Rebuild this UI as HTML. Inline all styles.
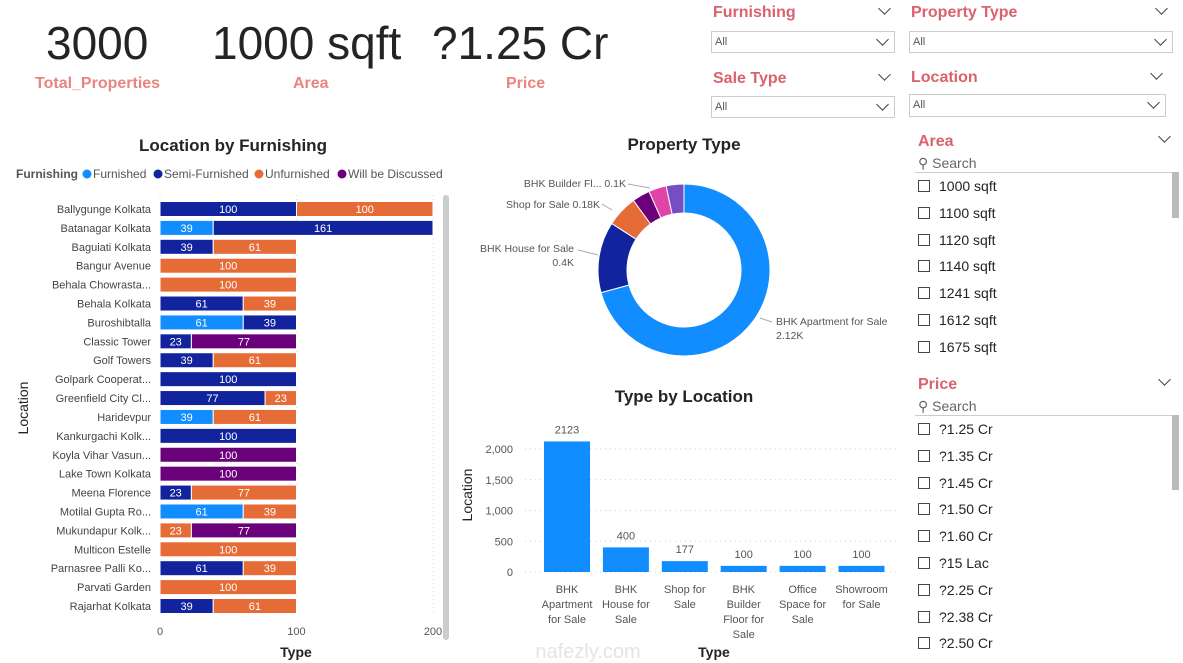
<!DOCTYPE html>
<html><head><meta charset="utf-8">
<style>
body{margin:0;width:1183px;height:663px;overflow:hidden;background:#fff;font-family:"Liberation Sans",sans-serif;position:relative}
.a{position:absolute}
.kpi{font-size:46px;color:#252423;white-space:nowrap}
.kl{font-size:16px;font-weight:bold;color:#E8857F;white-space:nowrap}
.sh{font-size:16px;font-weight:bold;color:#D9626D}
.dd{border:1px solid #ccc;font-size:11px;color:#555;box-sizing:border-box;padding:4px 3px}
.chev{width:8px;height:8px;border-right:1.5px solid #444;border-bottom:1.5px solid #444;transform:rotate(45deg)}
.item{font-size:14px;color:#252423}
.cb{width:12px;height:12px;border:1px solid #444;box-sizing:border-box}
</style></head><body>
<div class="a kpi" style="left:46px;top:16px">3000</div>
<div class="a kl" style="left:35px;top:75px">Total_Properties</div>
<div class="a kpi" style="left:212px;top:16px">1000 sqft</div>
<div class="a kl" style="left:293px;top:75px">Area</div>
<div class="a kpi" style="left:432px;top:16px">?1.25 Cr</div>
<div class="a kl" style="left:506px;top:75px">Price</div>

<div class="a sh" style="left:713px;top:4px">Furnishing</div>
<div class="a chev" style="left:880px;top:4px"></div>
<div class="a dd" style="left:711px;top:31px;width:184px;height:22px">All</div>
<div class="a chev" style="left:878px;top:35px"></div>
<div class="a sh" style="left:911px;top:4px">Property Type</div>
<div class="a chev" style="left:1157px;top:4px"></div>
<div class="a dd" style="left:909px;top:31px;width:264px;height:22px">All</div>
<div class="a chev" style="left:1156px;top:35px"></div>
<div class="a sh" style="left:713px;top:70px">Sale Type</div>
<div class="a chev" style="left:880px;top:70px"></div>
<div class="a dd" style="left:711px;top:96px;width:184px;height:22px">All</div>
<div class="a chev" style="left:878px;top:100px"></div>
<div class="a sh" style="left:911px;top:69px">Location</div>
<div class="a chev" style="left:1152px;top:69px"></div>
<div class="a dd" style="left:909px;top:94px;width:257px;height:23px">All</div>
<div class="a chev" style="left:1149px;top:98px"></div>

<div class="a sh" style="left:918px;top:133px">Area</div>
<div class="a chev" style="left:1160px;top:132px"></div>
<div class="a" style="left:918px;top:155px;font-size:14px;color:#666">&#9906; Search</div>
<div class="a" style="left:915px;top:172px;width:258px;height:1px;background:#ccc"></div>
<div class="a" style="left:1172px;top:172px;width:7px;height:46px;background:#bbb"></div>
<div id="arealist"></div>

<div class="a sh" style="left:918px;top:376px">Price</div>
<div class="a chev" style="left:1160px;top:375px"></div>
<div class="a" style="left:918px;top:398px;font-size:14px;color:#666">&#9906; Search</div>
<div class="a" style="left:915px;top:415px;width:258px;height:1px;background:#ccc"></div>
<div class="a" style="left:1172px;top:415px;width:7px;height:75px;background:#bbb"></div>
<div class="a" style="left:915px;top:416px;width:260px;height:247px;overflow:hidden" id="pricelist"></div>

<svg class="a" style="left:0;top:0" width="1183" height="663" id="svg" font-family="Liberation Sans, sans-serif"></svg>

<script>
const locations=["Ballygunge Kolkata","Batanagar Kolkata","Baguiati Kolkata","Bangur Avenue","Behala Chowrasta...","Behala Kolkata","Buroshibtalla","Classic Tower","Golf Towers","Golpark Cooperat...","Greenfield City Cl...","Haridevpur","Kankurgachi Kolk...","Koyla Vihar Vasun...","Lake Town Kolkata","Meena Florence","Motilal Gupta Ro...","Mukundapur Kolk...","Multicon Estelle","Parnasree Palli Ko...","Parvati Garden","Rajarhat Kolkata"];
const furnished=[0,39,0,0,0,0,61,0,0,0,0,39,0,0,0,0,61,0,0,0,0,0];
const semiFurnished=[100,161,39,0,0,61,39,23,39,100,77,0,100,0,0,23,0,0,0,61,0,39];
const unfurnished=[100,0,61,100,100,39,0,0,61,0,23,61,0,0,0,77,39,23,100,39,100,61];
const willBeDiscussed=[0,0,0,0,0,0,0,77,0,0,0,0,0,100,100,0,0,77,0,0,0,0];
const xTicks=[0,100,200];
const types=["BHK Apartment for Sale","BHK House for Sale","Shop for Sale","BHK Builder Floor for Sale","Office Space for Sale","Showroom for Sale"];
const typeLines=[["BHK","Apartment","for Sale"],["BHK","House for","Sale"],["Shop for","Sale"],["BHK","Builder","Floor for","Sale"],["Office","Space for","Sale"],["Showroom","for Sale"]];
const typeCounts=[2123,400,177,100,100,100];
const yTicks=[0,500,1000,1500,2000];
const yTickLabels=["0","500","1,000","1,500","2,000"];
const areaItems=["1000 sqft","1100 sqft","1120 sqft","1140 sqft","1241 sqft","1612 sqft","1675 sqft"];
const priceItems=["?1.25 Cr","?1.35 Cr","?1.45 Cr","?1.50 Cr","?1.60 Cr","?15 Lac","?2.25 Cr","?2.38 Cr","?2.50 Cr"];

const NS="http://www.w3.org/2000/svg";
const svg=document.getElementById('svg');
function el(t,a,txt){const e=document.createElementNS(NS,t);for(const k in a)e.setAttribute(k,a[k]);if(txt!=null)e.textContent=txt;svg.appendChild(e);return e;}
const C={f:"#118DFF",s:"#12239E",u:"#E66C37",w:"#6B007B",p:"#E044A7",v:"#744EC2"};

// slicer lists
function list(items,host,top,step,name,absLeft){
  items.forEach((t,i)=>{
    const d=document.createElement('div');d.className='a';
    d.style.left=(absLeft?918:3)+'px';d.style.top=(top+i*step)+'px';
    d.innerHTML='<div class="a cb" style="left:0;top:2px"></div><div class="a item" style="left:21px;top:0;white-space:nowrap">'+t+'</div>';
    
    
    host.appendChild(d);
  });
}
list(areaItems,document.getElementById('arealist'),178,26.8,'area-option',true);
list(priceItems,document.getElementById('pricelist'),5,26.8,'price-option',false);

// left stacked bar
const x0=160,xs=(433-160)/200,rowY0=209,rowStep=(606-209)/21,bh=15;
const xL=v=>x0+v*xs;
el('text',{x:233,y:151,'text-anchor':'middle','font-size':17,'font-weight':'bold',fill:'#252423'},'Location by Furnishing');
el('text',{x:16,y:178,'font-size':12,'font-weight':'bold',fill:'#555'},'Furnishing');
[["Furnished",C.f,91],["Semi-Furnished",C.s,162],["Unfurnished",C.u,263],["Will be Discussed",C.w,346]].forEach(l=>{
  const g=el('g',{});
  const c=document.createElementNS(NS,'circle');c.setAttribute('cx',l[2]-4);c.setAttribute('cy',174);c.setAttribute('r',4.5);c.setAttribute('fill',l[1]);g.appendChild(c);
  const t=document.createElementNS(NS,'text');t.setAttribute('x',l[2]+2);t.setAttribute('y',178);t.setAttribute('font-size',12);t.setAttribute('fill','#555');t.textContent=l[0];g.appendChild(t);
});
xTicks.forEach(v=>{
  el('line',{x1:xL(v),x2:xL(v),y1:195,y2:615,stroke:'#ddd','stroke-dasharray':'1,3'});
  el('text',{x:xL(v),y:635,'text-anchor':'middle','font-size':11,fill:'#555'},String(v));
});
el('rect',{x:443,y:195,width:6,height:445,rx:3,fill:'#ccc'});
const series=[[furnished,C.f],[semiFurnished,C.s],[unfurnished,C.u],[willBeDiscussed,C.w]];
locations.forEach((loc,i)=>{
  const cy=rowY0+i*rowStep;
  el('text',{x:151,y:cy+4,'text-anchor':'end','font-size':11,fill:'#444'},loc);
  let acc=0;
  series.forEach(([arr,col])=>{
    const v=arr[i];if(!v)return;
    const r=el('rect',{x:xL(acc),y:cy-bh/2,width:v*xs,height:bh,fill:col,stroke:'#fff','stroke-width':1});
    
    
    el('text',{x:xL(acc+v/2),y:cy+4,'text-anchor':'middle','font-size':11,fill:'#fff'},String(v));
    acc+=v;
  });
});
el('text',{x:296,y:657,'text-anchor':'middle','font-size':14,'font-weight':'bold',fill:'#252423'},'Type');
el('text',{x:28,y:408,'text-anchor':'middle','font-size':14,fill:'#252423',transform:'rotate(-90 28 408)'},'Location');

// donut
el('text',{x:684,y:150,'text-anchor':'middle','font-size':17,'font-weight':'bold',fill:'#252423'},'Property Type');
const cx=684,cy=270,R=86,r0=57,total=typeCounts.reduce((a,b)=>a+b,0);
const dcol=[C.f,C.s,C.u,C.w,C.p,C.v];
let ang=0;
function pt(rad,a){return [cx+rad*Math.sin(a),cy-rad*Math.cos(a)];}
typeCounts.forEach((v,i)=>{
  const a1=ang,a2=ang+v/total*2*Math.PI;ang=a2;
  const [x1,y1]=pt(R,a1),[x2,y2]=pt(R,a2),[x3,y3]=pt(r0,a2),[x4,y4]=pt(r0,a1);
  const lg=(a2-a1)>Math.PI?1:0;
  const p=el('path',{d:`M${x1},${y1}A${R},${R} 0 ${lg} 1 ${x2},${y2}L${x3},${y3}A${r0},${r0} 0 ${lg} 0 ${x4},${y4}Z`,fill:dcol[i],stroke:'#fff','stroke-width':1});
  
  
});
const fmt=v=>v>=1000?(v/1000).toFixed(2)+'K':(v/1000).toFixed(v%100?2:1).replace(/0$/,'')+'K';
[[0,776,325,'start',true],[1,574,252,'end',true],[2,600,208,'end',false],[3,626,187,'end',false]].forEach(([i,x,y,anc,two])=>{
  const lbl=types[i].replace('BHK Builder Floor for Sale','BHK Builder Fl...');
  if(two){el('text',{x,y,'text-anchor':anc,'font-size':10.5,fill:'#555'},lbl);el('text',{x,y:y+14,'text-anchor':anc,'font-size':10.5,fill:'#555'},fmt(typeCounts[i]));}
  else el('text',{x,y,'text-anchor':anc,'font-size':10.5,fill:'#555'},lbl+' '+fmt(typeCounts[i]));
});
el('polyline',{points:'772,322 760,318',stroke:'#aaa',fill:'none'});
el('polyline',{points:'578,250 598,255',stroke:'#aaa',fill:'none'});
el('polyline',{points:'602,204 612,210',stroke:'#aaa',fill:'none'});
el('polyline',{points:'628,184 650,188',stroke:'#aaa',fill:'none'});

// column chart
el('text',{x:684,y:402,'text-anchor':'middle','font-size':17,'font-weight':'bold',fill:'#252423'},'Type by Location');
const yb=572,ys=(572-449)/2000,yC=v=>yb-v*ys,colX0=567,colStep=58.9,cw=46;
yTicks.forEach((v,i)=>{
  el('line',{x1:525,x2:897,y1:yC(v),y2:yC(v),stroke:'#ccc','stroke-dasharray':'1,4'});
  el('text',{x:513,y:yC(v)+4,'text-anchor':'end','font-size':11,fill:'#555'},yTickLabels[i]);
});
typeCounts.forEach((v,i)=>{
  const x=colX0+i*colStep;
  const r=el('rect',{x:x-cw/2,y:yC(v),width:cw,height:v*ys,fill:C.f});
  
  
  el('text',{x,y:yC(v)-8,'text-anchor':'middle','font-size':11,fill:'#555'},String(v));
  typeLines[i].forEach((t,j)=>el('text',{x,y:593+j*15,'text-anchor':'middle','font-size':11,fill:'#555'},t));
});
el('text',{x:714,y:657,'text-anchor':'middle','font-size':14,'font-weight':'bold',fill:'#252423'},'Type');
el('text',{x:472,y:495,'text-anchor':'middle','font-size':14,fill:'#252423',transform:'rotate(-90 472 495)'},'Location');
el('text',{x:588,y:658,'text-anchor':'middle','font-size':20,fill:'#e4e4e4'},'nafezly.com');
</script>
</body></html>
